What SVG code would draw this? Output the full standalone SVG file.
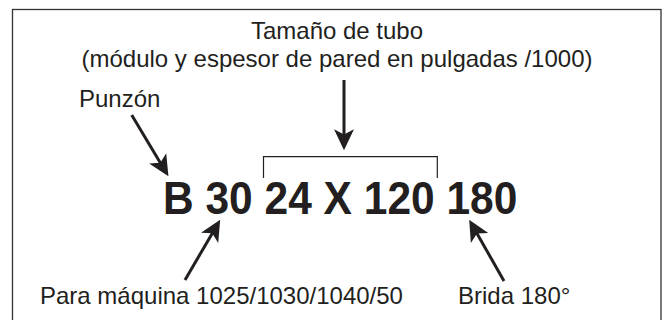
<svg xmlns="http://www.w3.org/2000/svg" width="669" height="320" viewBox="0 0 669 320">
  <style>
    .lbl { font-family: "Liberation Sans", Arial, sans-serif; font-size: 24px; fill: #231f20; }
    .code { font-family: "Liberation Sans", Arial, sans-serif; font-size: 42.5px; font-weight: bold; fill: #231f20; }
    .arrow { stroke: #231f20; stroke-width: 3; fill: none; marker-end: url(#head); }
    .bracket { stroke: #231f20; stroke-width: 1.2; fill: none; }
  </style>
  <defs>
    <marker id="head" viewBox="0 0 20 20" refX="14" refY="10" markerWidth="21" markerHeight="21" markerUnits="userSpaceOnUse" orient="auto">
      <path d="M0,0.5 L20,10 L0,19.5 L5,10 Z" fill="#231f20"/>
    </marker>
  </defs>
  <rect x="0" y="0" width="669" height="320" fill="#ffffff"/>
  <rect id="frame" x="12.5" y="9.5" width="648.5" height="320" fill="none" stroke="#333333" stroke-width="1.3"/>

  <g id="tube-size-label">
    <text class="lbl" x="337" y="39" text-anchor="middle">Tamaño de tubo</text>
    <text class="lbl" x="337" y="67" text-anchor="middle">(módulo y espesor de pared en pulgadas /1000)</text>
  </g>
  <g id="punzon-label">
    <text class="lbl" x="79" y="107">Punzón</text>
  </g>
  <g id="code">
    <text class="code" x="163" y="0" transform="translate(0,214) scale(1,1.08)">B 30 24 X 120 180</text>
  </g>
  <g id="machine-label">
    <text class="lbl" x="40" y="304">Para máquina 1025/1030/1040/50</text>
  </g>
  <g id="flange-label">
    <text class="lbl" x="458" y="304">Brida 180°</text>
  </g>

  <g id="connectors">
    <path class="bracket" d="M263.5,178 V156.7 H437.3 V178"/>
    <line class="arrow" x1="344" y1="80" x2="344" y2="144"/>
    <line class="arrow" x1="131.7" y1="115" x2="165.2" y2="170.9"/>
    <line class="arrow" x1="185" y1="280" x2="217" y2="225.2"/>
    <line class="arrow" x1="504" y1="281" x2="472.3" y2="225.2"/>
  </g>
</svg>
